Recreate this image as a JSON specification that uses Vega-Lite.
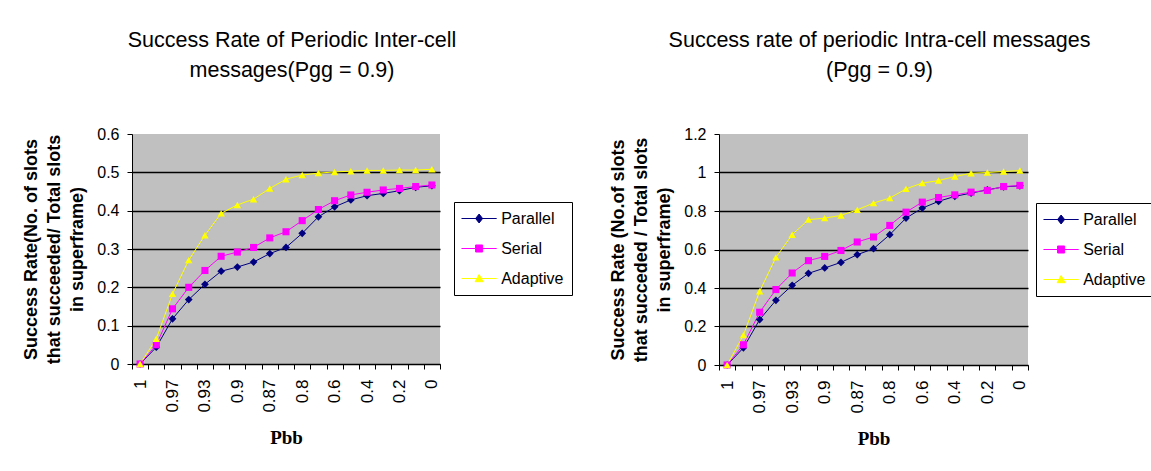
{
  "$schema": "https://vega.github.io/schema/vega-lite/v6.json",
  "background": "white",
  "padding": {"left": 22, "top": 29, "right": 0, "bottom": 0},
  "datasets": {
    "inter": [
      {"p": "1", "Parallel": 0, "Serial": 0, "Adaptive": 0},
      {"p": "0.99", "Parallel": 0.044, "Serial": 0.05, "Adaptive": 0.066},
      {"p": "0.97", "Parallel": 0.118, "Serial": 0.144, "Adaptive": 0.183},
      {"p": "0.95", "Parallel": 0.168, "Serial": 0.2, "Adaptive": 0.271},
      {"p": "0.93", "Parallel": 0.208, "Serial": 0.244, "Adaptive": 0.336},
      {"p": "0.91", "Parallel": 0.242, "Serial": 0.281, "Adaptive": 0.393},
      {"p": "0.9", "Parallel": 0.253, "Serial": 0.292, "Adaptive": 0.415},
      {"p": "0.88", "Parallel": 0.266, "Serial": 0.304, "Adaptive": 0.43},
      {"p": "0.87", "Parallel": 0.288, "Serial": 0.329, "Adaptive": 0.458},
      {"p": "0.85", "Parallel": 0.304, "Serial": 0.345, "Adaptive": 0.482},
      {"p": "0.8", "Parallel": 0.341, "Serial": 0.374, "Adaptive": 0.493},
      {"p": "0.7", "Parallel": 0.384, "Serial": 0.403, "Adaptive": 0.498},
      {"p": "0.6", "Parallel": 0.41, "Serial": 0.426, "Adaptive": 0.501},
      {"p": "0.5", "Parallel": 0.428, "Serial": 0.441, "Adaptive": 0.503},
      {"p": "0.4", "Parallel": 0.439, "Serial": 0.448, "Adaptive": 0.505},
      {"p": "0.3", "Parallel": 0.445, "Serial": 0.454, "Adaptive": 0.505},
      {"p": "0.2", "Parallel": 0.452, "Serial": 0.458, "Adaptive": 0.506},
      {"p": "0.1", "Parallel": 0.461, "Serial": 0.463, "Adaptive": 0.506},
      {"p": "0", "Parallel": 0.465, "Serial": 0.467, "Adaptive": 0.508}
    ],
    "intra": [
      {"p": "1", "Parallel": 0, "Serial": 0, "Adaptive": 0},
      {"p": "0.99", "Parallel": 0.089, "Serial": 0.105, "Adaptive": 0.155},
      {"p": "0.97", "Parallel": 0.236, "Serial": 0.274, "Adaptive": 0.383},
      {"p": "0.95", "Parallel": 0.336, "Serial": 0.392, "Adaptive": 0.559},
      {"p": "0.93", "Parallel": 0.414, "Serial": 0.478, "Adaptive": 0.677},
      {"p": "0.91", "Parallel": 0.476, "Serial": 0.542, "Adaptive": 0.755},
      {"p": "0.9", "Parallel": 0.504, "Serial": 0.564, "Adaptive": 0.763},
      {"p": "0.88", "Parallel": 0.533, "Serial": 0.595, "Adaptive": 0.777},
      {"p": "0.87", "Parallel": 0.573, "Serial": 0.639, "Adaptive": 0.806},
      {"p": "0.85", "Parallel": 0.604, "Serial": 0.665, "Adaptive": 0.841},
      {"p": "0.8", "Parallel": 0.677, "Serial": 0.725, "Adaptive": 0.867},
      {"p": "0.7", "Parallel": 0.763, "Serial": 0.794, "Adaptive": 0.915},
      {"p": "0.6", "Parallel": 0.815, "Serial": 0.846, "Adaptive": 0.945},
      {"p": "0.5", "Parallel": 0.85, "Serial": 0.87, "Adaptive": 0.958},
      {"p": "0.4", "Parallel": 0.876, "Serial": 0.884, "Adaptive": 0.979},
      {"p": "0.3", "Parallel": 0.893, "Serial": 0.898, "Adaptive": 0.996},
      {"p": "0.2", "Parallel": 0.91, "Serial": 0.907, "Adaptive": 1.0},
      {"p": "0.1", "Parallel": 0.925, "Serial": 0.927, "Adaptive": 1.005},
      {"p": "0", "Parallel": 0.931, "Serial": 0.933, "Adaptive": 1.01}
    ]
  },
  "config": {
    "font": "Liberation Sans",
    "view": {"fill": "#C0C0C0", "stroke": null},
    "axis": {
      "domainColor": "black", "tickColor": "black", "labelColor": "black", "titleColor": "black",
      "labelFont": "Liberation Sans", "labelFontSize": 16, "tickSize": 5, "domainWidth": 1, "tickWidth": 1
    },
    "legend": {
      "title": null, "orient": "none", "labelFont": "Liberation Sans", "labelFontSize": 16, "labelColor": "black",
      "strokeColor": "black", "fillColor": "white", "padding": 8, "rowPadding": 13,
      "symbolSize": 256, "symbolStrokeWidth": 1, "labelOffset": 13.6, "symbolOffset": 8.6
    },
    "title": {"font": "Liberation Sans", "fontSize": 21.5, "fontWeight": "normal", "lineHeight": 30, "offset": 45, "anchor": "middle", "frame": "group", "color": "black", "dx": 6}
  },
  "resolve": {"scale": {"color": "independent"}, "legend": {"color": "independent"}},
  "spacing": 36,
  "hconcat": [
    {
      "title": {"text": ["Success Rate of Periodic Inter-cell", "messages(Pgg = 0.9)"]},
      "width": 308, "height": 230,
      "data": {"name": "inter"},
      "transform": [{"fold": ["Parallel", "Serial", "Adaptive"], "as": ["series", "rate"]}],
      "encoding": {
        "x": {"field": "p", "type": "ordinal", "sort": null,
          "scale": {"type": "band", "paddingInner": 0, "paddingOuter": 0},
          "axis": {"title": "Pbb", "titleFont": "Liberation Serif", "titleFontSize": 19, "titleFontWeight": "bold",
            "labelAngle": -90, "labelPadding": 10, "labelFontSize": 17, "tickBand": "extent", "grid": false, "titlePadding": 16,
            "labelExpr": "indexof(['1','0.97','0.93','0.9','0.87','0.8','0.6','0.4','0.2','0'], datum.value) >= 0 ? datum.label : ''"}},
        "y": {"field": "rate", "type": "quantitative",
          "scale": {"domain": [0, 0.6], "nice": false, "zero": true},
          "axis": {"values": [0, 0.1, 0.2, 0.3, 0.4, 0.5, 0.6], "format": "~g",
            "title": ["Success Rate(No. of slots", "that succeeded/ Total slots", "in superframe)"],
            "titleFontSize": 18, "titleFontWeight": "bold", "titleLineHeight": 23, "titlePadding": 10, "labelPadding": 8,
            "grid": true, "gridColor": "black", "gridWidth": 1.5,
            "gridOpacity": {"condition": {"test": "datum.value > 0.55", "value": 0}, "value": 1}}}
      },
      "layer": [
        {"mark": {"type": "line", "strokeWidth": 1},
          "encoding": {"color": {"field": "series", "type": "nominal",
            "scale": {"domain": ["Parallel", "Serial", "Adaptive"], "range": ["#000080", "#FF00FF", "#FFFF00"]},
            "legend": {"legendX": 322, "legendY": 68,
              "encode": {"symbols": {"update": {
                "shape": {"signal": "datum.value === 'Parallel' ? 'M-2.2,0L2.2,0M0,-0.56L0.44,0L0,0.56L-0.44,0Z' : datum.value === 'Serial' ? 'M-2.2,0L2.2,0M-0.44,-0.44L0.44,-0.44L0.44,0.44L-0.44,0.44Z' : 'M-2.2,0L2.2,0M0,-0.5L0.5,0.4L-0.5,0.4Z'"},
                "fill": {"signal": "datum.value === 'Parallel' ? '#000080' : datum.value === 'Serial' ? '#FF00FF' : '#FFFF00'"},
                "stroke": {"signal": "datum.value === 'Parallel' ? '#000080' : datum.value === 'Serial' ? '#FF00FF' : '#FFFF00'"},
                "strokeWidth": {"value": 1}, "opacity": {"value": 1}, "fillOpacity": {"value": 1}}}}}}}},
        {"transform": [{"filter": "datum.series === 'Parallel'"}],
          "mark": {"type": "point", "shape": "diamond", "filled": true, "color": "#000080", "size": 60, "opacity": 1}},
        {"transform": [{"filter": "datum.series === 'Serial'"}],
          "mark": {"type": "point", "shape": "square", "filled": true, "color": "#FF00FF", "size": 50, "opacity": 1}},
        {"transform": [{"filter": "datum.series === 'Adaptive'"}],
          "mark": {"type": "point", "shape": "triangle-up", "filled": true, "color": "#FFFF00", "size": 55, "opacity": 1}}
      ]
    },
    {
      "title": {"text": ["Success rate of periodic Intra-cell messages", "(Pgg = 0.9)"]},
      "width": 309, "height": 231,
      "data": {"name": "intra"},
      "transform": [{"fold": ["Parallel", "Serial", "Adaptive"], "as": ["series", "rate"]}],
      "encoding": {
        "x": {"field": "p", "type": "ordinal", "sort": null,
          "scale": {"type": "band", "paddingInner": 0, "paddingOuter": 0},
          "axis": {"title": "Pbb", "titleFont": "Liberation Serif", "titleFontSize": 19, "titleFontWeight": "bold",
            "labelAngle": -90, "labelPadding": 10, "labelFontSize": 17, "tickBand": "extent", "grid": false, "titlePadding": 16,
            "labelExpr": "indexof(['1','0.97','0.93','0.9','0.87','0.8','0.6','0.4','0.2','0'], datum.value) >= 0 ? datum.label : ''"}},
        "y": {"field": "rate", "type": "quantitative",
          "scale": {"domain": [0, 1.2], "nice": false, "zero": true},
          "axis": {"values": [0, 0.2, 0.4, 0.6, 0.8, 1, 1.2], "format": "~g",
            "title": ["Success Rate (No.of slots", "that succeded / Total slots", "in superframe)"],
            "titleFontSize": 18, "titleFontWeight": "bold", "titleLineHeight": 23, "titlePadding": 10, "labelPadding": 8,
            "grid": true, "gridColor": "black", "gridWidth": 1.5,
            "gridOpacity": {"condition": {"test": "datum.value > 1.1", "value": 0}, "value": 1}}}
      },
      "layer": [
        {"mark": {"type": "line", "strokeWidth": 1},
          "encoding": {"color": {"field": "series", "type": "nominal",
            "scale": {"domain": ["Parallel", "Serial", "Adaptive"], "range": ["#000080", "#FF00FF", "#FFFF00"]},
            "legend": {"legendX": 317, "legendY": 69,
              "encode": {"symbols": {"update": {
                "shape": {"signal": "datum.value === 'Parallel' ? 'M-2.2,0L2.2,0M0,-0.56L0.44,0L0,0.56L-0.44,0Z' : datum.value === 'Serial' ? 'M-2.2,0L2.2,0M-0.44,-0.44L0.44,-0.44L0.44,0.44L-0.44,0.44Z' : 'M-2.2,0L2.2,0M0,-0.5L0.5,0.4L-0.5,0.4Z'"},
                "fill": {"signal": "datum.value === 'Parallel' ? '#000080' : datum.value === 'Serial' ? '#FF00FF' : '#FFFF00'"},
                "stroke": {"signal": "datum.value === 'Parallel' ? '#000080' : datum.value === 'Serial' ? '#FF00FF' : '#FFFF00'"},
                "strokeWidth": {"value": 1}, "opacity": {"value": 1}, "fillOpacity": {"value": 1}}}}}}}},
        {"transform": [{"filter": "datum.series === 'Parallel'"}],
          "mark": {"type": "point", "shape": "diamond", "filled": true, "color": "#000080", "size": 60, "opacity": 1}},
        {"transform": [{"filter": "datum.series === 'Serial'"}],
          "mark": {"type": "point", "shape": "square", "filled": true, "color": "#FF00FF", "size": 50, "opacity": 1}},
        {"transform": [{"filter": "datum.series === 'Adaptive'"}],
          "mark": {"type": "point", "shape": "triangle-up", "filled": true, "color": "#FFFF00", "size": 55, "opacity": 1}}
      ]
    }
  ]
}
